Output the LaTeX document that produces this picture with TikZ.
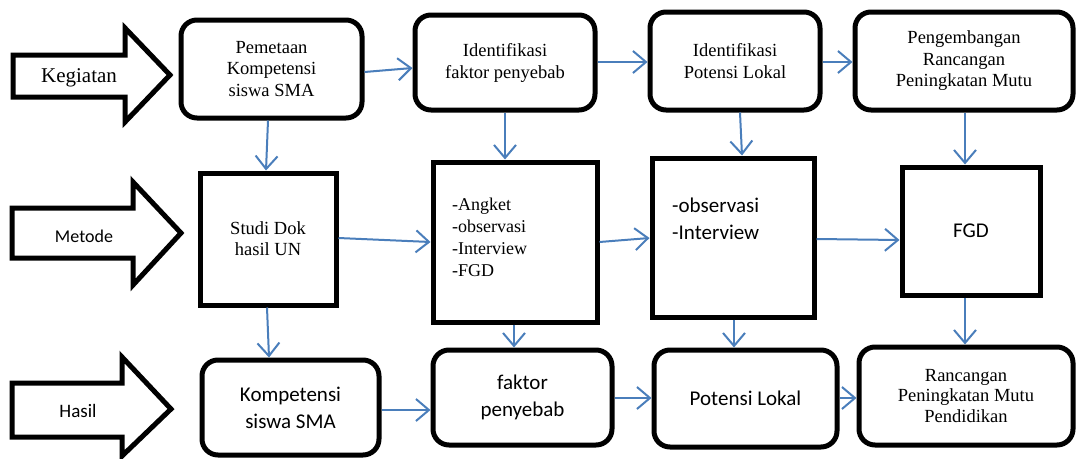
\documentclass[tikz,border=0pt]{standalone}
\usepackage{fontspec}
\setmainfont{Liberation Serif}
\newfontfamily\tnr{Liberation Serif}
\newfontfamily\carl{Carlito}
\usetikzlibrary{arrows.meta}
\definecolor{ablue}{HTML}{4A7EBB}
\begin{document}
\begin{tikzpicture}[x=1pt,y=-1pt,
  rbox/.style={draw=black,line width=5pt,rounded corners=16pt,align=center,inner sep=0pt},
  sbox/.style={draw=black,line width=5pt,align=center,inner sep=0pt},
  blk/.style={draw=black,line width=5pt,fill=white,line join=miter},
  conn/.style={draw=ablue,line width=2pt,-{Straight Barb[length=13pt,width=22pt,line width=2pt]}},
  ser/.style={font=\tnr\fontsize{18.5}{22}\selectfont},
  cal/.style={font=\carl\fontsize{21}{27}\selectfont},
]
\useasboundingbox (0,0) rectangle (1076,458);
% block arrows
\draw[blk] (13,55)--(125,55)--(125,28)--(170,75)--(125,122)--(125,97)--(13,97)--cycle;
\node[font=\tnr\fontsize{21}{24}\selectfont] (lk) at (79,78) {Kegiatan};
\draw[blk] (12,208)--(133,208)--(133,182)--(181,233)--(133,285)--(133,258)--(12,258)--cycle;
\node[font=\carl\fontsize{18}{20}\selectfont] (lm) at (84,236) {Metode};
\draw[blk] (12,383)--(122,383)--(122,357)--(171,409)--(122,456)--(122,437)--(12,437)--cycle;
\node[font=\carl\fontsize{19}{20}\selectfont] (lh) at (78,411) {Hasil};
% row 1
\node[rbox,font=\tnr\fontsize{18.5}{21.5}\selectfont,minimum width=181pt,minimum height=98pt] (pem) at (271.5,69) {Pemetaan\\Kompetensi\\siswa SMA};
\node[rbox,ser,minimum width=180pt,minimum height=95pt] (idf) at (505,62.5) {Identifikasi\\faktor penyebab};
\node[rbox,ser,minimum width=170pt,minimum height=98pt] (idp) at (735,61) {Identifikasi\\Potensi Lokal};
\node[rbox,ser,font=\tnr\fontsize{18.5}{21.5}\selectfont,minimum width=218pt,minimum height=98pt] (peng) at (964,61) {Pengembangan\\Rancangan\\Peningkatan Mutu};
% row 2
\node[sbox,font=\tnr\fontsize{18.5}{21}\selectfont,minimum width=136pt,minimum height=132pt] (studi) at (268,239) {Studi Dok\\hasil UN};
\node[sbox,minimum width=164pt,minimum height=160pt] (angket) at (515,242) {};
\node[anchor=north west,align=left,inner sep=0pt,font=\tnr\fontsize{18}{22}\selectfont] (angkettxt) at (452,198) {-Angket\\-observasi\\-Interview\\-FGD};
\node[sbox,minimum width=162pt,minimum height=159pt] (obs) at (733,237.5) {};
\node[anchor=north west,align=left,inner sep=0pt,cal] (obstxt) at (672,198) {-observasi\\-Interview};
\node[sbox,cal,minimum width=138pt,minimum height=128pt] (fgd) at (971,231) {FGD};
% row 3
\node[rbox,cal,minimum width=177pt,minimum height=95pt] (komp) at (290.5,407.5) {Kompetensi\\siswa SMA};
\node[rbox,cal,minimum width=179pt,minimum height=95pt] (fak) at (522.5,397.5) {faktor\\penyebab};
\node[rbox,cal,minimum width=183pt,minimum height=97pt] (pot) at (745.5,398.5) {Potensi Lokal};
\node[rbox,font=\tnr\fontsize{18.5}{20.5}\selectfont,minimum width=214pt,minimum height=98pt] (ranc) at (966,396) {Rancangan\\Peningkatan Mutu\\Pendidikan};
% connectors
\draw[conn] (pem.east|-0,72) -- (idf.west|-0,68);
\draw[conn] (idf.east|-0,62) -- (idp.west|-0,62);
\draw[conn] (idp.east|-0,62) -- (peng.west|-0,62);
\draw[conn] (pem.south-|268,0) -- (studi.north-|266,0);
\draw[conn] (idf.south-|505,0) -- (angket.north-|505,0);
\draw[conn] (idp.south-|740,0) -- (obs.north-|742,0);
\draw[conn] (peng.south-|965,0) -- (fgd.north-|965,0);
\draw[conn] (studi.east|-0,238) -- (angket.west|-0,242);
\draw[conn] (angket.east|-0,242) -- (obs.west|-0,238);
\draw[conn] (obs.east|-0,239) -- (fgd.west|-0,240);
\draw[conn] (studi.south-|267,0) -- (komp.north-|269,0);
\draw[conn] (angket.south-|514,0) -- (fak.north-|514,0);
\draw[conn] (obs.south-|734,0) -- (pot.north-|734,0);
\draw[conn] (fgd.south-|965,0) -- (ranc.north-|965,0);
\draw[conn] (komp.east|-0,410) -- (fak.west|-0,410);
\draw[conn] (fak.east|-0,398) -- (pot.west|-0,398);
\draw[conn] (pot.east|-0,398) -- (ranc.west|-0,398);
\end{tikzpicture}
\end{document}
